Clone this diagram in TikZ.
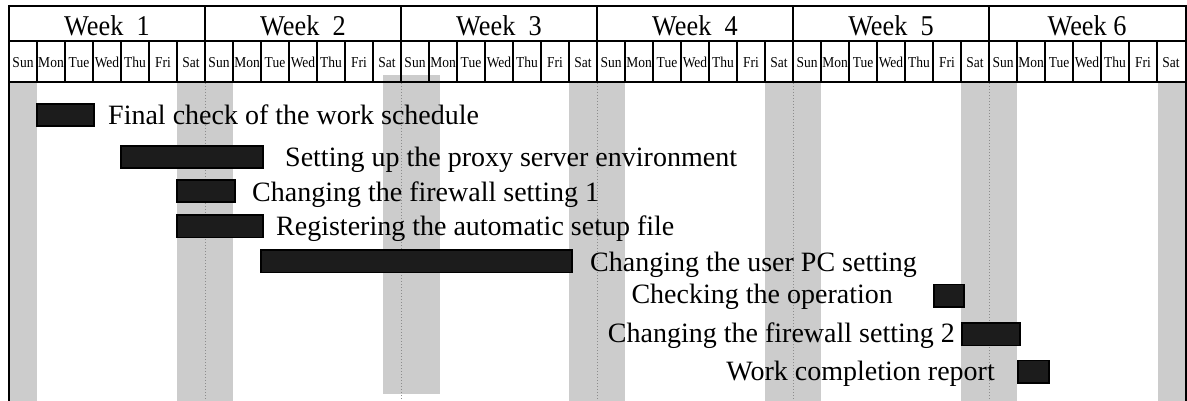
\documentclass[tikz,border=0pt]{standalone}
\usepackage{fontspec}
\usepackage{graphicx}
\setmainfont{Liberation Serif}
\definecolor{weekendgray}{HTML}{CCCCCC}
\definecolor{barfill}{HTML}{1C1C1C}
\definecolor{divgray}{HTML}{8C8C8C}
\newcommand\tallish[2]{\scalebox{1}[#1]{#2}}
\begin{document}
\begin{tikzpicture}[x=1pt,y=-1pt,
  rule/.style={line width=2pt},
  weekend/.style={fill=weekendgray},
  weekdiv/.style={draw=divgray, line width=0.8pt, dash pattern=on 1pt off 2pt},
  taskbar/.style={draw=black, line width=1.6pt, fill=barfill, inner sep=0pt,
                  minimum height=22.5pt, anchor=north west},
  tasklabel/.style={font=\fontsize{28}{30}\selectfont, inner sep=0pt},
  weeklabel/.style={font=\fontsize{26.3}{28}\selectfont, inner sep=0pt, anchor=base},
  daylabel/.style={font=\fontsize{13.5}{15}\selectfont, inner sep=0pt, anchor=base}]

\useasboundingbox (0,0) rectangle (1187,401);

% weekend shading
\fill[weekend] (9,82) rectangle (37,401);
\foreach \a in {177,569,765,961}
  \fill[weekend] (\a,82) rectangle (\a+56,401);
\fill[weekend] (383,75) rectangle (440,394);
\fill[weekend] (1158,82) rectangle (1186,401);

% dotted week dividers in the chart area
\foreach \i in {1,...,5}
  \draw[weekdiv] (9+196*\i,83) -- (9+196*\i,401);

% header grid and outer frame
\draw[rule] (9,6) -- (1186,6);
\draw[rule] (9,41) -- (1186,41);
\draw[rule] (9,82) -- (1186,82);
\draw[rule] (9,5) -- (9,401);
\draw[rule] (1186,5) -- (1186,401);
\foreach \i in {1,...,5}
  \draw[rule] (9+196*\i,6) -- (9+196*\i,82);
\foreach \d in {1,...,41}
  \draw[rule] (9+28*\d,41) -- (9+28*\d,82);

% week titles
\node[weeklabel] (w1) at (107,35.5) {\tallish{1.09}{Week\ \ 1}};
\node[weeklabel] (w2) at (303,35.5) {\tallish{1.09}{Week\ \ 2}};
\node[weeklabel] (w3) at (499,35.5) {\tallish{1.09}{Week\ \ 3}};
\node[weeklabel] (w4) at (695,35.5) {\tallish{1.09}{Week\ \ 4}};
\node[weeklabel] (w5) at (891,35.5) {\tallish{1.09}{Week\ \ 5}};
\node[weeklabel] (w6) at (1087,35.5) {\tallish{1.09}{Week 6}};

% day names
\foreach \w in {0,...,5}
  \foreach \d/\n in {0/Sun,1/Mon,2/Tue,3/Wed,4/Thu,5/Fri,6/Sat}
    \node[daylabel] (day-\w-\d) at (23+196*\w+28*\d,67.5) {\tallish{1.12}{\n}};

% task bars
\node[taskbar, minimum width=57pt]  (bar1) at (36,103) {};
\node[taskbar, minimum width=142pt] (bar2) at (120,145) {};
\node[taskbar, minimum width=58pt]  (bar3) at (176,179) {};
\node[taskbar, minimum width=86pt]  (bar4) at (176,214) {};
\node[taskbar, minimum width=311pt] (bar5) at (260,249) {};
\node[taskbar, minimum width=30pt]  (bar6) at (933,283.5) {};
\node[taskbar, minimum width=58pt]  (bar7) at (961,322) {};
\node[taskbar, minimum width=31pt]  (bar8) at (1017,359.5) {};

% task names
\node[tasklabel, anchor=base west] (t1) at (108,125) {Final check of the work schedule};
\node[tasklabel, anchor=base west] (t2) at (285,167) {Setting up the proxy server environment};
\node[tasklabel, anchor=base west] (t3) at (252,201) {Changing the firewall setting 1};
\node[tasklabel, anchor=base west] (t4) at (276,236) {Registering the automatic setup file};
\node[tasklabel, anchor=base west] (t5) at (590,271) {Changing the user PC setting};
\node[tasklabel, anchor=base east] (t6) at (893,303) {Checking the operation};
\node[tasklabel, anchor=base east] (t7) at (955,342) {Changing the firewall setting 2};
\node[tasklabel, anchor=base east] (t8) at (995,380) {Work completion report};
\end{tikzpicture}
\end{document}
